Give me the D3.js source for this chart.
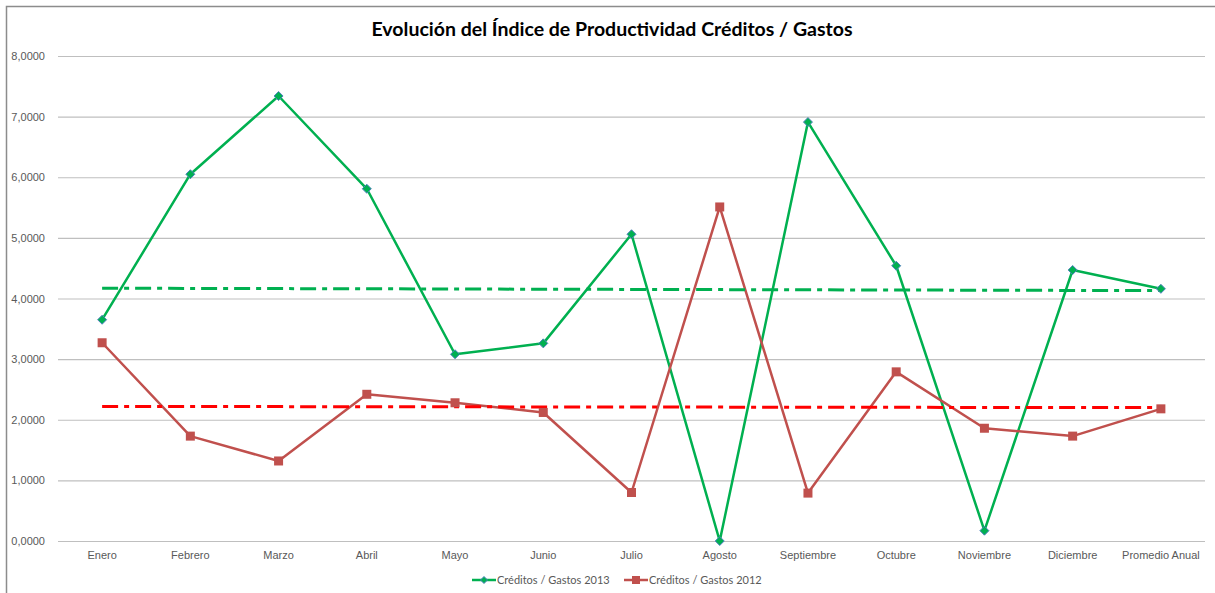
<!DOCTYPE html>
<html>
<head>
<meta charset="utf-8">
<script src="https://cdn.jsdelivr.net/npm/d3@7"></script>
<style>
  body { margin: 0; background: #fff; }
  svg { display: block; font-family: Lato, "Open Sans", sans-serif; }
</style>
</head>
<body>
<div class="viz"></div>
<script>
// data
var months = ["Enero", "Febrero", "Marzo", "Abril", "Mayo", "Junio", "Julio",
  "Agosto", "Septiembre", "Octubre", "Noviembre", "Diciembre", "Promedio Anual"];
var values2013 = [3.65, 6.05, 7.34, 5.81, 3.08, 3.26, 5.06, 0.0, 6.91, 4.54, 0.17, 4.47, 4.16];
var values2012 = [3.27, 1.73, 1.32, 2.42, 2.28, 2.12, 0.80, 5.51, 0.79, 2.79, 1.86, 1.73, 2.18];
// trend lines: value at first and last category
var trend2013 = [4.17, 4.13];
var trend2012 = [2.22, 2.20];
var yTicks = [0, 1, 2, 3, 4, 5, 6, 7, 8];

var W = 1215, H = 593;
var margin = {top: 56, right: 10, bottom: 52, left: 58};

var svg = d3.select(".viz")
  .append("svg")
    .attr("width", W)
    .attr("height", H);

// chart border (only top/left visible in the picture)
svg.append("path")
  .attr("d", "M6.5,593 V6.5 H1215")
  .attr("fill", "none")
  .attr("stroke", "#8c8c8c")
  .attr("stroke-width", 1.5);

var x = d3.scaleBand()
  .domain(months)
  .range([margin.left, W - margin.right]);

var y = d3.scaleLinear()
  .domain([0, 8])
  .range([H - margin.bottom, margin.top]);

var fmt = function(v) { return d3.format(".4f")(v).replace(".", ","); };

// gridlines + y labels
var yAxis = svg.append("g")
  .attr("transform", "translate(" + margin.left + ",0)")
  .call(d3.axisLeft(y).tickValues(yTicks).tickSize(-(W - margin.right - margin.left)).tickPadding(13).tickFormat(fmt));
yAxis.select(".domain").remove();
yAxis.selectAll(".tick line").attr("stroke", "#bfbfbf").attr("stroke-width", 1.2);
yAxis.selectAll(".tick text").attr("fill", "#595959").style("font-size", "11px");

// x labels
var xAxis = svg.append("g")
  .attr("transform", "translate(0," + (H - margin.bottom) + ")")
  .call(d3.axisBottom(x).tickSize(0).tickPadding(10));
xAxis.select(".domain").remove();
xAxis.selectAll(".tick text").attr("fill", "#595959").style("font-size", "11px");

var line = d3.line()
  .x(function(d, i) { return x(months[i]) + x.bandwidth() / 2; })
  .y(function(d) { return y(d); });

var series = [
  {name: "Créditos / Gastos 2013", values: values2013, color: "#00b050", marker: "diamond"},
  {name: "Créditos / Gastos 2012", values: values2012, color: "#c0504d", marker: "square"}
];

series.forEach(function(s) {
  svg.append("path")
    .datum(s.values)
    .attr("fill", "none")
    .attr("stroke", s.color)
    .attr("stroke-width", 2.5)
    .attr("stroke-linejoin", "round")
    .attr("d", line);
});

// trend lines (dash-dot)
var trends = [
  {values: trend2013, color: "#00b050"},
  {values: trend2012, color: "#ff0000"}
];
trends.forEach(function(t) {
  svg.append("line")
    .attr("x1", x(months[0]) + x.bandwidth() / 2)
    .attr("x2", x(months[months.length - 1]) + x.bandwidth() / 2)
    .attr("y1", y(t.values[0]))
    .attr("y2", y(t.values[1]))
    .attr("stroke", t.color)
    .attr("stroke-width", 3)
    .attr("stroke-dasharray", "16,6,5,6");
});

// markers
function drawMarker(g, type, color, cx, cy, size) {
  if (type == "diamond") {
    g.append("path")
      .attr("d", "M" + cx + "," + (cy - size) + " L" + (cx + size) + "," + cy +
        " L" + cx + "," + (cy + size) + " L" + (cx - size) + "," + cy + "Z")
      .attr("fill", color)
      .attr("stroke", "#4f81bd")
      .attr("stroke-width", 1);
  } else {
    g.append("rect")
      .attr("x", cx - size).attr("y", cy - size)
      .attr("width", size * 2).attr("height", size * 2)
      .attr("fill", color);
  }
}

series.forEach(function(s) {
  var g = svg.append("g");
  s.values.forEach(function(v, i) {
    drawMarker(g, s.marker, s.color, x(months[i]) + x.bandwidth() / 2, y(v), 4.5);
  });
});

// title
svg.append("text")
  .attr("x", 612)
  .attr("y", 36)
  .attr("text-anchor", "middle")
  .attr("fill", "#000")
  .style("font-size", "19.5px")
  .style("font-weight", "bold")
  .text("Evolución del Índice de Productividad Créditos / Gastos");

// legend
var legend = svg.append("g").attr("transform", "translate(472,580)");
var legX = [0, 152];
series.forEach(function(s, i) {
  var lg = legend.append("g").attr("transform", "translate(" + legX[i] + ",0)");
  lg.append("line")
    .attr("x1", 0).attr("x2", 24)
    .attr("y1", 0).attr("y2", 0)
    .attr("stroke", s.color)
    .attr("stroke-width", 2.5);
  drawMarker(lg, s.marker, s.color, 12, 0, s.marker == "diamond" ? 3.5 : 4);
  lg.append("text")
    .attr("x", 25)
    .attr("y", 4)
    .attr("fill", "#595959")
    .style("font-size", "11px")
    .text(s.name);
});
</script>
</body>
</html>
